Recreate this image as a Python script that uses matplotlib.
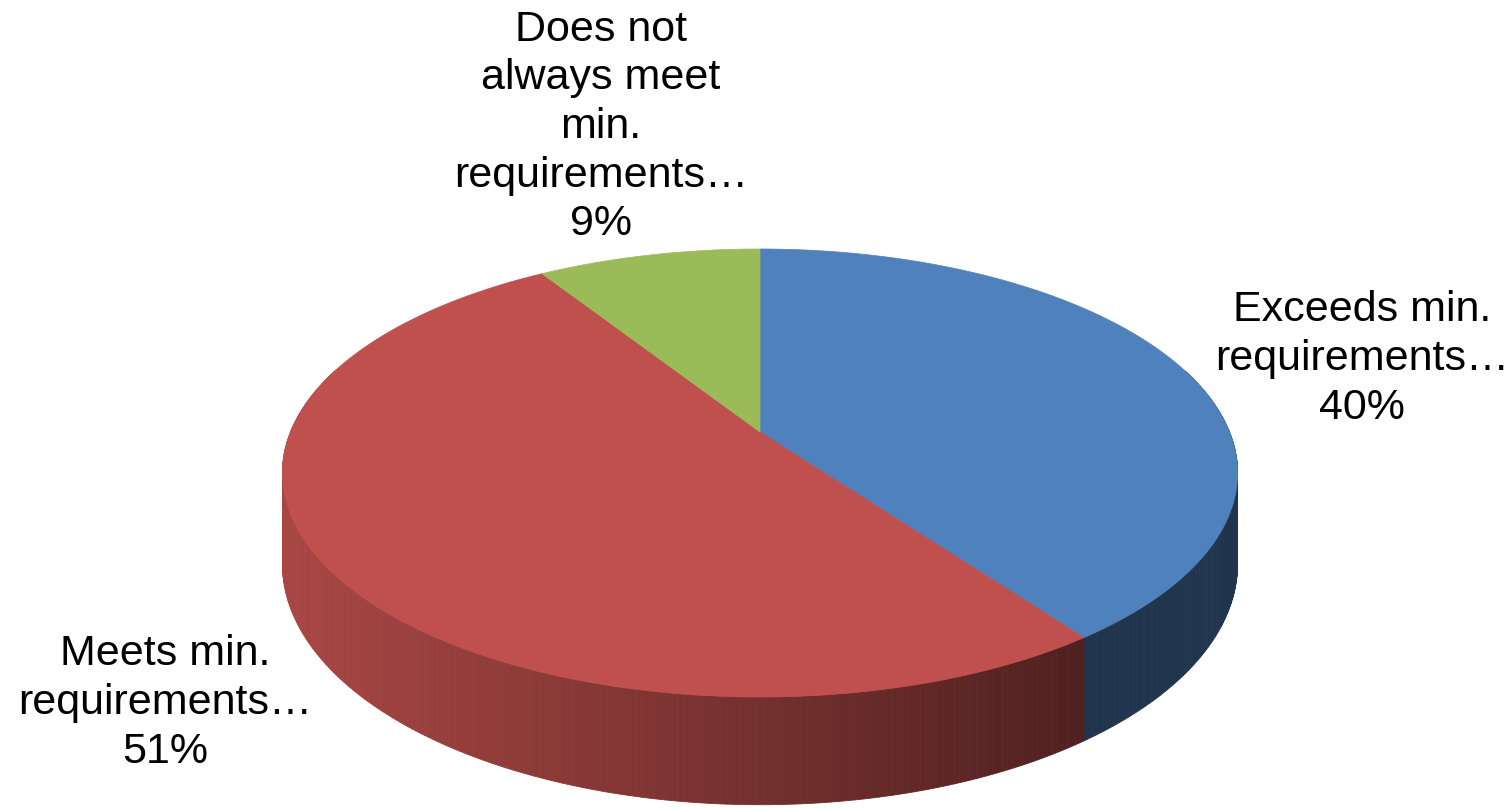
import numpy as np
import matplotlib.pyplot as plt
from matplotlib.patches import Polygon
from matplotlib.colors import to_rgb

# data
labels = ["Exceeds min.\nrequirements…", "Meets min.\nrequirements…",
          "Does not\nalways meet\nmin.\nrequirements…"]
values = [40, 51, 9]
colors = ["#4F81BD", "#C0504D", "#9BBB59"]

# label placement (pixel coords, y down)
label_pos = [(1362, 359), (165, 703), (601, 127)]

# pie geometry: tilted disc with a bit of perspective
cx, cy = 760, 432
R, B, P = 469.5, 216.5, 0.183
H = 88


def proj(t, drop=0.0):
    x, z = np.cos(t), np.sin(t)
    w = 1 + P * z
    return cx + R * x / w, cy - B * z / w + drop / w


fig = plt.figure(figsize=(15.12, 8.09), dpi=100)
ax = fig.add_axes([0, 0, 1, 1])
ax.set_xlim(0, 1512)
ax.set_ylim(809, 0)
ax.axis('off')

fracs = np.array(values) / sum(values)
bounds = np.pi / 2 - 2 * np.pi * np.concatenate([[0], np.cumsum(fracs)])

# sides first
for i, c in enumerate(colors):
    base = np.array(to_rgb(c))
    ts = np.linspace(bounds[i], bounds[i + 1], 300)
    for t0, t1 in zip(ts[:-1], ts[1:]):
        tm = (t0 + t1) / 2
        if np.sin(tm) > 0.3:
            continue
        x0, y0 = proj(t0)
        x1, y1 = proj(t1)
        x2, y2 = proj(t1, H)
        x3, y3 = proj(t0, H)
        sx = (x0 + x1) / 2
        f = np.clip(0.88 - 0.47 * (sx - 283) / (1085 - 283), 0.41, 0.9)
        col = base * f
        ax.add_patch(Polygon([(x0, y0), (x1, y1), (x2, y2), (x3, y3)],
                             closed=True, facecolor=col, edgecolor=col, lw=0.6))

# top faces
for i, c in enumerate(colors):
    ts = np.linspace(bounds[i], bounds[i + 1], 400)
    xs, ys = proj(ts)
    pts = [(cx, cy)] + list(zip(xs, ys))
    ax.add_patch(Polygon(pts, closed=True, facecolor=c, edgecolor=c, lw=0.5))

for lab, v, (lx, ly) in zip(labels, values, label_pos):
    ax.text(lx, ly, f"{lab}\n{v}%", ha='center', va='center', fontsize=31,
            family=['Liberation Sans', 'DejaVu Sans'], linespacing=1.28)

plt.savefig("out.png", dpi=100)
